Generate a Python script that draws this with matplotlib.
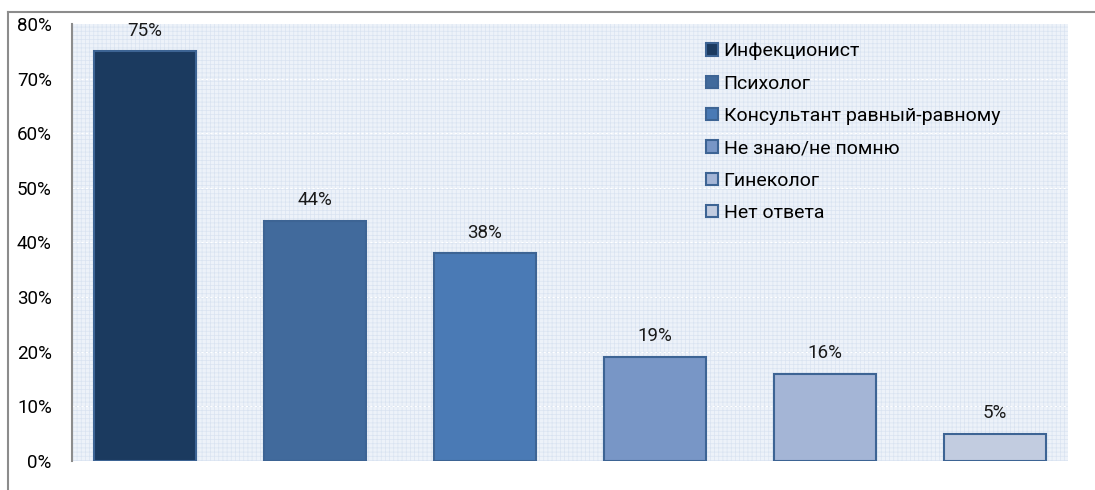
import matplotlib
matplotlib.use('Agg')
import matplotlib.pyplot as plt
from matplotlib.patches import Rectangle
from matplotlib.lines import Line2D

plt.rcParams['font.family'] = ['Roboto', 'DejaVu Sans']
plt.rcParams['hatch.linewidth'] = 0.5

# Data
categories = ['Инфекционист', 'Психолог', 'Консультант равный-равному',
              'Не знаю/не помню', 'Гинеколог', 'Нет ответа']
values = [75, 44, 38, 19, 16, 5]
colors = ['#1b3a5f', '#416a9c', '#4a7ab5', '#7896c6', '#a4b5d6', '#c2cce0']

fig = plt.figure(figsize=(10.95, 4.9), dpi=100)
ax = fig.add_axes([72 / 1095, 29 / 490, 996 / 1095, 437 / 490])

# outer frame (only top and left edges are visible)
fig.add_artist(Line2D([8 / 1095, 8 / 1095], [0, 1 - 12 / 490], transform=fig.transFigure,
                      color='#8c8c8c', lw=1.5))
fig.add_artist(Line2D([8 / 1095, 1], [1 - 12 / 490, 1 - 12 / 490], transform=fig.transFigure,
                      color='#8c8c8c', lw=1.5))

# dotted light blue background
ax.set_facecolor('#edf2f9')
ax.add_patch(Rectangle((0, 0), 1, 1, transform=ax.transAxes, facecolor='none',
                       edgecolor='#d9e3f1', hatch='++++', lw=0, zorder=0))

bars = []
for i, (v, c, lab) in enumerate(zip(values, colors, categories)):
    b = ax.bar(i, v, width=0.6, color=c, edgecolor='#3d6494', linewidth=1.5,
               label=lab, zorder=3)
    bars.append(b)
    ax.text(i, v + 3.8, f'{v}%', ha='center', va='center', fontsize=13.5, color='#1a1a1a')

ax.set_xlim(-0.429, 5.43)
ax.set_ylim(0, 80)
ax.set_yticks(range(0, 81, 10))
ax.set_yticklabels([f'{t}%' for t in range(0, 81, 10)], fontsize=13.5)
ax.tick_params(axis='y', length=0, pad=14.5)
ax.set_xticks([])
for t in range(10, 80, 10):
    ax.axhline(t, color='white', lw=0.8, ls=(0, (2, 2)), zorder=1)

for s in ['top', 'right', 'bottom']:
    ax.spines[s].set_visible(False)
ax.spines['left'].set_color('#8c8c8c')
ax.spines['left'].set_linewidth(1.5)

ax.legend(loc='upper left', bbox_to_anchor=(0.625, 0.985), frameon=False, fontsize=14,
          handlelength=0.6, handleheight=0.6, handletextpad=0.3, labelspacing=0.74,
          borderaxespad=0.2)

fig.savefig('out.png', dpi=100)
